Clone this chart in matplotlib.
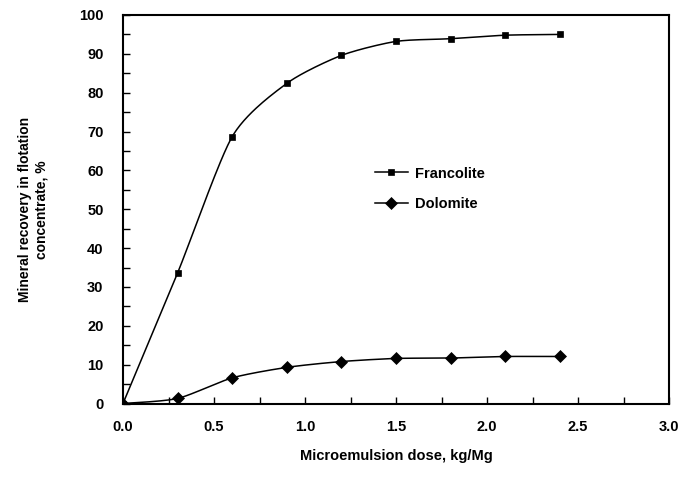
import numpy as np
import matplotlib
matplotlib.use("Agg")
import matplotlib.pyplot as plt
from matplotlib.ticker import MultipleLocator

dose = [0.0, 0.3, 0.6, 0.9, 1.2, 1.5, 1.8, 2.1, 2.4]
francolite = [0.0, 33.6, 68.7, 82.4, 89.6, 93.2, 93.9, 94.8, 95.0]
dolomite = [0.0, 1.3, 6.6, 9.3, 10.8, 11.6, 11.7, 12.1, 12.1]
x_ticks = [0.0, 0.5, 1.0, 1.5, 2.0, 2.5, 3.0]
y_ticks = [0, 10, 20, 30, 40, 50, 60, 70, 80, 90, 100]

plt.rcParams['font.family'] = ['Liberation Sans', 'DejaVu Sans']


def smooth(x, y, n=30, t=0.12):
    """Excel-like Bezier smoothing through the points."""
    x = np.asarray(x, float)
    y = np.asarray(y, float)
    px, py = [], []
    m = len(x)
    for i in range(m - 1):
        x0, y0 = (x[i - 1], y[i - 1]) if i > 0 else (x[i], y[i])
        x3, y3 = (x[i + 2], y[i + 2]) if i + 2 < m else (x[i + 1], y[i + 1])
        c1x = x[i] + (x[i + 1] - x0) * t
        c1y = y[i] + (y[i + 1] - y0) * t
        c2x = x[i + 1] - (x3 - x[i]) * t
        c2y = y[i + 1] - (y3 - y[i]) * t
        s = np.linspace(0, 1, n)
        bx = (1 - s) ** 3 * x[i] + 3 * (1 - s) ** 2 * s * c1x + 3 * (1 - s) * s ** 2 * c2x + s ** 3 * x[i + 1]
        by = (1 - s) ** 3 * y[i] + 3 * (1 - s) ** 2 * s * c1y + 3 * (1 - s) * s ** 2 * c2y + s ** 3 * y[i + 1]
        px.extend(bx)
        py.extend(by)
    return np.array(px), np.array(py)


fig = plt.figure(figsize=(6.83, 4.8), dpi=100)
ax = fig.add_axes([123 / 683, 1 - 403.5 / 480, 546 / 683, 388.5 / 480])

for yv, mk, ms, lab in [(francolite, 's', 5, 'Francolite'), (dolomite, 'D', 6.3, 'Dolomite')]:
    sx, sy = smooth(dose, yv)
    ax.plot(sx, sy, color='black', lw=1.1, zorder=2)
    ax.plot(dose, yv, linestyle='none', marker=mk, ms=ms, mew=0.5, color='black', zorder=3)
    ax.plot([], [], color='black', lw=1.1, marker=mk, ms=ms, mew=0.5, label=lab)

ax.set_xlim(0, 3.0)
ax.set_ylim(0, 100)
ax.set_xticks(x_ticks)
ax.set_xticklabels([f"{v:.1f}" for v in x_ticks], fontsize=10.5, fontweight='bold')
ax.set_yticks(y_ticks)
ax.set_yticklabels([str(v) for v in y_ticks], fontsize=10.5, fontweight='bold')
ax.xaxis.set_minor_locator(MultipleLocator(0.25))
ax.yaxis.set_minor_locator(MultipleLocator(5))
ax.tick_params(which='both', direction='in', length=5, width=1, top=False, right=False)
ax.tick_params(axis='x', which='major', pad=12)
ax.tick_params(axis='y', which='major', pad=14)
for sp in ax.spines.values():
    sp.set_linewidth(1.5)

ax.set_xlabel('Microemulsion dose, kg/Mg', fontsize=10.5, fontweight='bold', labelpad=11)
ax.set_ylabel('Mineral recovery in flotation\nconcentrate, %', fontsize=10, fontweight='bold', labelpad=22)

leg = ax.legend(loc='upper left', bbox_to_anchor=(0.45, 0.625), frameon=False,
                prop={'weight': 'bold', 'size': 10.5}, handlelength=2.3, handletextpad=0.5,
                labelspacing=1.15, borderaxespad=0)

fig.savefig('out.png', dpi=100)
